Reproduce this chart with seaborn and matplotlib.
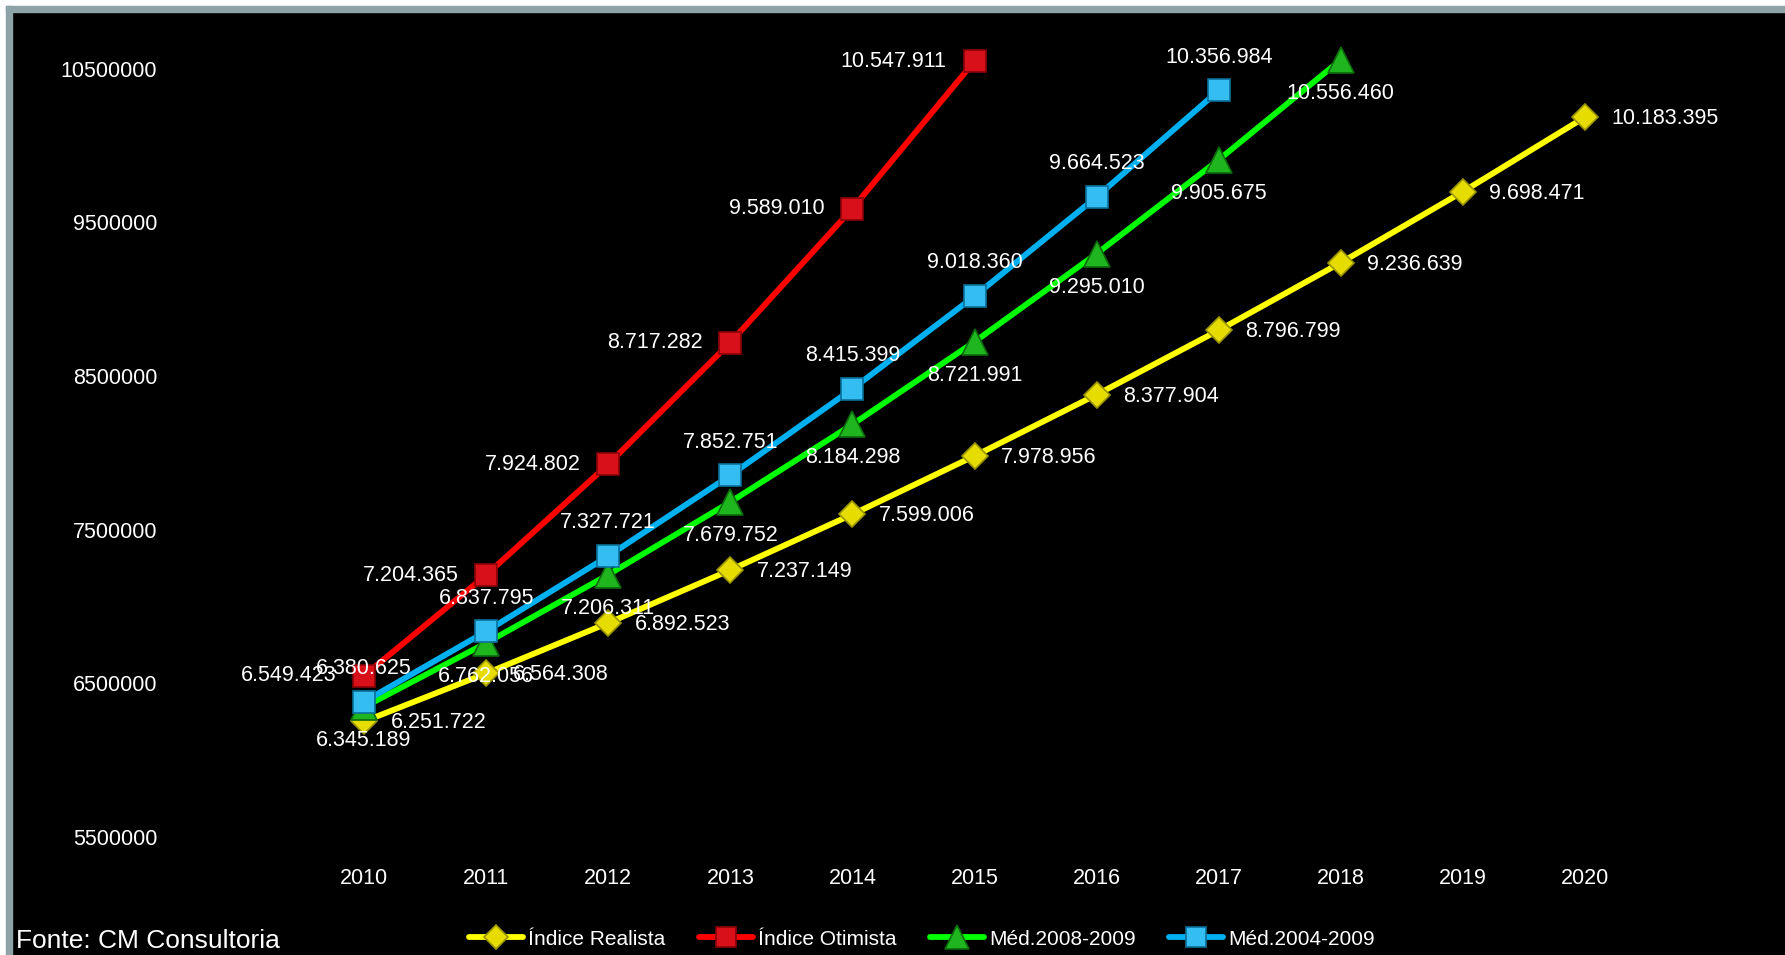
import matplotlib
matplotlib.use("Agg")
import matplotlib.pyplot as plt
from matplotlib.patches import Rectangle
import seaborn as sns
import pandas as pd

years = [2010, 2011, 2012, 2013, 2014, 2015, 2016, 2017, 2018, 2019, 2020]
realista = [6251722, 6564308, 6892523, 7237149, 7599006, 7978956, 8377904, 8796799, 9236639, 9698471, 10183395]
otimista = [6549423, 7204365, 7924802, 8717282, 9589010, 10547911]
med_0809 = [6345189, 6762056, 7206311, 7679752, 8184298, 8721991, 9295010, 9905675, 10556460]
med_0409 = [6380625, 6837795, 7327721, 7852751, 8415399, 9018360, 9664523, 10356984]
names = ["Índice Realista", "Índice Otimista", "Méd.2008-2009", "Méd.2004-2009"]
yticks = [5500000, 6500000, 7500000, 8500000, 9500000, 10500000]

sns.set_theme(style="dark")
plt.rcParams['font.family'] = ['Liberation Sans', 'DejaVu Sans']

W, H = 1785, 955
fig = plt.figure(figsize=(W / 100, H / 100), dpi=100, facecolor='black')

# frame strips (white outer edge + gray border) on left and top
fig.patches.append(Rectangle((0, 0), 6 / W, 1, transform=fig.transFigure, color='white', zorder=0))
fig.patches.append(Rectangle((0, 1 - 6 / H), 1, 6 / H, transform=fig.transFigure, color='white', zorder=0))
fig.patches.append(Rectangle((6 / W, 0), 6 / W, 1 - 6 / H, transform=fig.transFigure, color='#8ea3a8', zorder=0))
fig.patches.append(Rectangle((6 / W, 1 - 12 / H), 1 - 6 / W, 6 / H, transform=fig.transFigure, color='#8ea3a8', zorder=0))

left_px, right_px, bottom_px, top_px = 303, 1646, 837, 12
ax = fig.add_axes([left_px / W, 1 - bottom_px / H, (right_px - left_px) / W, (bottom_px - top_px) / H])
ax.set_facecolor('black')

series = [
    (realista, '#ffff00', 'D', 13.5, '#e6dc00', '#9a9400', 'right'),
    (otimista, '#ff0000', 's', 16, '#d8101a', '#8a0008', 'left'),
    (med_0809, '#00ff00', '^', 19, '#1fb51f', '#0c6a0c', 'below'),
    (med_0409, '#00b0f0', 's', 16, '#33bdf0', '#0a6f9a', 'above'),
]

for (vals, col, mk, ms, mfc, mec, pos), name in zip(series, names):
    df = pd.DataFrame({'ano': years[:len(vals)], 'valor': vals})
    sns.lineplot(data=df, x='ano', y='valor', ax=ax, color=col, linewidth=4.2,
                 marker=mk, markersize=ms, markerfacecolor=mfc,
                 markeredgecolor=mec, markeredgewidth=1.2, label=name, zorder=3)
    for x, v in zip(df['ano'], df['valor']):
        lab = f"{v:,}".replace(',', '.')
        if pos == 'right':
            kw = dict(xytext=(19, -1), ha='left', va='center')
        elif pos == 'left':
            kw = dict(xytext=(-20, 0), ha='right', va='center')
        elif pos == 'below':
            kw = dict(xytext=(0, -24), ha='center', va='center')
        else:
            kw = dict(xytext=(0, 24), ha='center', va='center')
        ax.annotate(lab, (x, v), textcoords='offset points', color='white',
                    fontsize=15.5, zorder=5, **kw)

ax.set_xlim(2009.5, 2020.5)
ax.set_ylim(5500000, 5500000 + (bottom_px - top_px) / 153.7 * 1e6)
ax.set_xticks(years)
ax.set_xticklabels([str(y) for y in years])
ax.set_yticks(yticks)
ax.set_yticklabels([str(t) for t in yticks])
ax.tick_params(axis='both', colors='white', labelsize=15.5, length=0)
ax.tick_params(axis='y', pad=105)
ax.tick_params(axis='x', pad=22)
ax.set_xlabel('')
ax.set_ylabel('')
ax.grid(False)
for s in ax.spines.values():
    s.set_visible(False)

handles, labels = ax.get_legend_handles_labels()
ax.get_legend().remove()
leg = fig.legend(handles, labels, loc='center', bbox_to_anchor=(922 / W, 1 - 939 / H),
                 ncol=4, frameon=False, fontsize=15, handlelength=2.6,
                 handletextpad=0.25, columnspacing=1.6, labelcolor='white',
                 markerscale=0.9)

fig.text(16 / W, 1 - 941 / H, 'Fonte: CM Consultoria', color='white', fontsize=19,
         ha='left', va='center')

fig.savefig('out.png', dpi=100, facecolor='black')
